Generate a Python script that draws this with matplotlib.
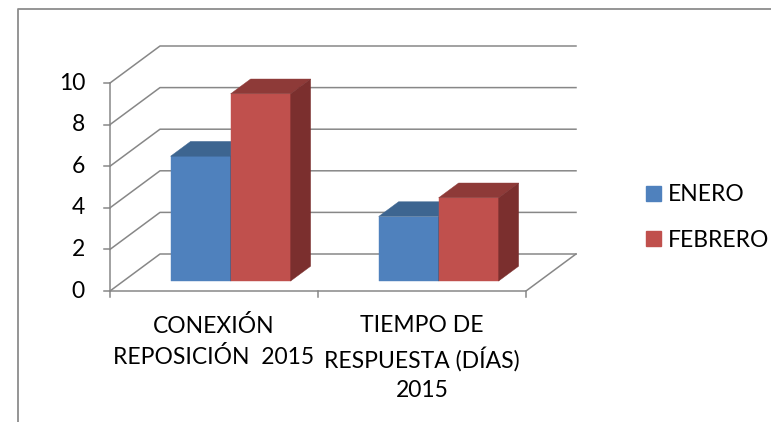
import numpy as np
import matplotlib
matplotlib.use("Agg")
import matplotlib.pyplot as plt
from matplotlib.lines import Line2D
from matplotlib.patches import Patch, Polygon

plt.rcParams['font.family'] = ['Lato', 'DejaVu Sans']

# data
categories = ['CONEXIÓN\nREPOSICIÓN  2015', 'TIEMPO DE\nRESPUESTA (DÍAS)\n2015']
series = ['ENERO', 'FEBRERO']
enero = [6, 3.1]
febrero = [9, 4]
yticks = [0, 2, 4, 6, 8, 10]

front_c = ['#4F81BD', '#C0504D']
top_c = ['#3D6590', '#8E3A38']
side_c = ['#36557A', '#7B2F2E']
grid_c = '#878787'

W, H = 771, 422
fig = plt.figure(figsize=(W / 100, H / 100), dpi=100)
ax = fig.add_axes([0, 0, 1, 1])
ax.axis('off')

# pixel scale of the oblique projection
x0, y0 = 110, 291
sx, sy = 208, 20.8
ax.set_xlim(-x0 / sx, (W - x0) / sx)
ax.set_ylim(-(H - y0) / sy, y0 / sy)

DX = 50 / sx     # full depth offset
DY = 37 / sy
d0, d1 = 0.27, 0.67  # bar depth range
bw = 60 / sx
ncat = len(categories)

# walls
lw = 1.1
for v in yticks:
    ax.plot([0, DX, ncat + DX], [v, v + DY, v + DY], color=grid_c, lw=lw, zorder=1)
    ax.plot([-6 / sx, 0], [v, v], color=grid_c, lw=lw, zorder=1)
    ax.text(-25 / sx, v, str(v), ha='right', va='center', fontsize=16.5, color='black')
ax.plot([0, 0], [0, yticks[-1]], color=grid_c, lw=lw, zorder=1)
# floor
ax.plot([0, ncat, ncat + DX], [0, 0, DY], color=grid_c, lw=lw, zorder=1)
for i in range(ncat + 1):
    ax.plot([i, i], [0, -6 / sy], color=grid_c, lw=lw, zorder=1)

# bars
bx = d0 * DX
by = d0 * DY
ddx = (d1 - d0) * DX
ddy = (d1 - d0) * DY
for s, vals in enumerate([enero, febrero]):
    for i, v in enumerate(vals):
        xl = i + 0.515 - bw + s * bw + bx
        xr = xl + bw
        ax.bar(xl, v, width=bw, bottom=by, align='edge', color=front_c[s],
               edgecolor=front_c[s], lw=0.3, zorder=3 + s)
        top = v + by
        ax.add_patch(Polygon([(xl, top), (xr, top), (xr + ddx, top + ddy), (xl + ddx, top + ddy)],
                             closed=True, facecolor=top_c[s], edgecolor=top_c[s], lw=0.3, zorder=3 + s))
        ax.add_patch(Polygon([(xr, by), (xr, top), (xr + ddx, top + ddy), (xr + ddx, by + ddy)],
                             closed=True, facecolor=side_c[s], edgecolor=side_c[s], lw=0.3, zorder=3 + s))

# category labels
for i, lab in enumerate(categories):
    ax.text(i + 0.5, -24 / sy, lab, ha='center', va='top', fontsize=16.5,
            linespacing=1.5, color='black')

# legend
handles = [Patch(facecolor=c, edgecolor=c) for c in front_c]
fig.legend(handles, series, loc='center left', bbox_to_anchor=(646 / W, 1 - 217.5 / H),
           frameon=False, fontsize=16.5, handlelength=0.65, handleheight=0.65,
           handletextpad=0.3, labelspacing=1.05, borderpad=0, borderaxespad=0)

# chart border
fig.add_artist(Line2D([18 / W, 18 / W, 1], [0, 1 - 9 / H, 1 - 9 / H],
                      transform=fig.transFigure, color='#8C8C8C', lw=1.3))

fig.savefig('out.png', dpi=100)
